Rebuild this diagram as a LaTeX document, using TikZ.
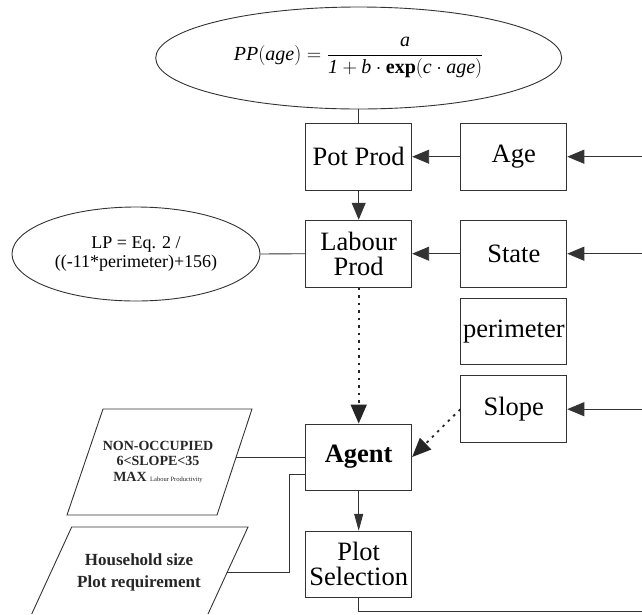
\RequirePackage{fix-cm}
\documentclass[tikz,border=0pt]{standalone}
\usepackage{fontspec}
\setmainfont{Liberation Serif}
\usetikzlibrary{arrows.meta,shapes.geometric}
\begin{document}
\begin{tikzpicture}[x=1pt,y=-1pt,
  box/.style={draw=black!80, line width=0.9pt, minimum width=106pt, minimum height=67pt,
    inner sep=0pt, align=center, font=\fontsize{26.5}{25}\selectfont},
  oval/.style={draw=black!80, line width=0.9pt, ellipse, inner sep=0pt, align=center},
  link/.style={draw=black!80, line width=0.9pt},
  arr/.style={link, -{Triangle[length=17pt,width=14pt]}},
  thinarr/.style={link, -{Triangle[length=17pt,width=9pt]}},
  dotarr/.style={draw=black!85, line width=1.8pt, dash pattern=on 2.5pt off 5pt,
    -{Triangle[length=19pt,width=16pt]}},
  ptext/.style={align=center, text=black!85, inner sep=0pt}
]
\useasboundingbox (0,0) rectangle (642,614);

% ellipses
\node[oval, minimum width=406pt, minimum height=102pt, font=\fontsize{20}{24}\selectfont] (pp) at (358.7,58)
  {$\displaystyle \textit{PP}(\textit{age}) = \frac{\textit{a}}{\textit{1}+\textit{b}\cdot\textbf{exp}\bigl(\textit{c}\cdot\textit{age}\bigr)}$};
\node[oval, minimum width=248pt, minimum height=94pt, font=\fontsize{18}{19}\selectfont] (lp) at (136,254)
  {LP = Eq. 2 /\\((-11*perimeter)+156)};

% boxes
\node[box] (pot) at (358.7,156.7) {Pot Prod};
\node[box] (age) at (513.8,156.7) {Age};
\node[box] (lab) at (358.7,253.7) {Labour\\Prod};
\node[box] (state) at (513.8,253.7) {State};
\node[box, minimum height=66pt] (perim) at (513.8,331.3) {perimeter};
\node[box] (slope) at (513.8,409.2) {Slope};
\node[box, minimum height=66pt, font=\fontsize{26.5}{25}\selectfont\bfseries] (agent) at (358.7,457) {Agent};
\node[box, minimum height=66pt] (plot) at (358.7,564.2) {Plot\\Selection};

% parallelograms
\draw[link] (103,409) -- (252,409) -- (217,515) -- (67,515) -- cycle;
\coordinate (p1r) at (236,457);
\node[ptext, font=\fontsize{14}{15.7}\selectfont\bfseries] (p1t) at (158,462)
  {NON-OCCUPIED\\6<SLOPE<35\\MAX {\fontsize{6.5}{8}\selectfont\mdseries Labour Productivity}};
\draw[link] (31.7,614) -- (71.7,527) -- (248,527) -- (208,614);
\coordinate (p2r) at (227,572.7);
\node[ptext, font=\fontsize{17}{22}\selectfont\bfseries] (p2t) at (139,572)
  {Household size\\Plot requirement};

% inputs from right
\coordinate (inAge) at (642,156.7);
\coordinate (inState) at (642,253.7);
\coordinate (inSlope) at (642,409.2);
\coordinate (botR) at (642,611.7);

% connectors
\draw[link] (pp.south) -- (pot.north);
\draw[arr] (inAge) -- (age.east);
\draw[arr] (age.west) -- (pot.east);
\draw[arr] (pot.south) -- (lab.north);
\draw[arr] (inState) -- (state.east);
\draw[arr] (state.west) -- (lab.east);
\draw[link] (lp.east) -- (lab.west);
\draw[arr] (inSlope) -- (slope.east);
\draw[dotarr] (lab.south) -- (agent.north);
\draw[dotarr] (slope.west) -- (agent.east);
\draw[link] (p1r) -- (agent.west);
\coordinate (ag2) at ([yshift=-17pt]agent.west);
\draw[link] (ag2) -- ++(-16,0) |- (p2r);
\draw[thinarr] (agent.south) -- (plot.north);
\draw[link] (plot.south) |- (botR);
\end{tikzpicture}
\end{document}
